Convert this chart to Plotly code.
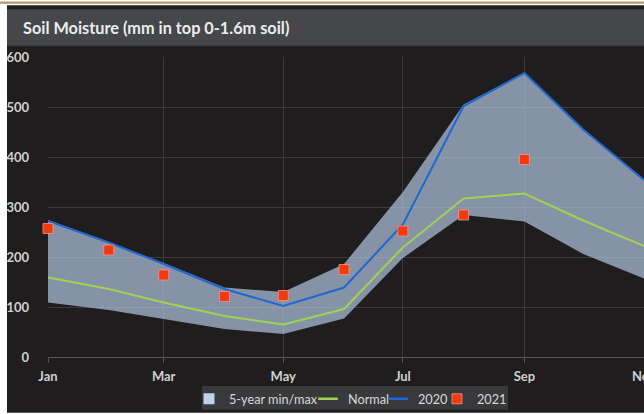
import plotly.graph_objects as go

months = ["2021-01-01", "2021-02-01", "2021-03-01", "2021-04-01", "2021-05-01", "2021-06-01",
          "2021-07-01", "2021-08-01", "2021-09-01", "2021-10-01", "2021-11-01"]
band_max = [274, 230, 188, 139, 130, 186, 330, 505, 568, 455, 355]
band_min = [109, 94, 76, 56, 46, 77, 198, 284, 271, 206, 157]
normal = [159, 136, 109, 82, 65, 96, 219, 317, 327, 273, 222]
y2020 = [272, 229, 186, 136, 102, 139, 265, 502, 568, 455, 354]
y2021 = [257, 214, 164, 121, 123, 175, 252, 284, 395]
tick_vals = ["2021-01-01", "2021-03-01", "2021-05-01", "2021-07-01", "2021-09-01", "2021-11-01"]
tick_text = ["Jan", "Mar", "May", "Jul", "Sep", "Nov"]
y_ticks = [0, 100, 200, 300, 400, 500, 600]

W, H = 644, 414
L, R, T, B = 48, 0, 57, 56
PW, PH = W - L - R, H - T - B

def px(x):
    return (x - L) / PW

def py(y):
    return (H - B - y) / PH

BG = "#1f1d1e"
BAND = "rgba(178,198,224,0.70)"
GREEN = "#9ed354"
BLUE = "#1f68d2"
RED = "#f03a12"
LEG_FONT = dict(size=12.7, color="#d8d8d8", family="Lato")

fig = go.Figure()
fig.add_trace(go.Scatter(x=months, y=band_min, mode="lines", line=dict(width=0, color=BAND),
                         showlegend=False, hoverinfo="skip"))
fig.add_trace(go.Scatter(x=months, y=band_max, mode="lines", line=dict(width=0, color=BAND),
                         fill="tonexty", fillcolor=BAND, showlegend=False, hoverinfo="skip"))
fig.add_trace(go.Scatter(x=months, y=normal, mode="lines", name="Normal", showlegend=False,
                         line=dict(color=GREEN, width=2)))
fig.add_trace(go.Scatter(x=months, y=y2020, mode="lines", name="2020", showlegend=False,
                         line=dict(color=BLUE, width=2)))
fig.add_trace(go.Scatter(x=months[:len(y2021)], y=y2021, mode="markers", name="2021",
                         cliponaxis=False, legend="legend4",
                         marker=dict(symbol="square", size=10, color=RED,
                                     line=dict(color="rgba(255,150,130,0.75)", width=1))))
# legend-only entries
fig.add_trace(go.Scatter(x=[None], y=[None], mode="markers", name="5-year min/max", legend="legend",
                         marker=dict(symbol="square", size=11, color="#bcd1ec")))
fig.add_trace(go.Scatter(x=[None], y=[None], mode="markers", name="Normal", legend="legend2",
                         marker=dict(symbol="line-ew", size=14, line=dict(color=GREEN, width=2.5))))
fig.add_trace(go.Scatter(x=[None], y=[None], mode="markers", name="2020", legend="legend3",
                         marker=dict(symbol="line-ew", size=14, line=dict(color=BLUE, width=2.5))))

shapes = [
    dict(type="rect", xref="paper", yref="paper", x0=px(7), x1=px(W), y0=py(H), y1=py(5),
         fillcolor=BG, line=dict(width=0), layer="below"),
    dict(type="rect", xref="paper", yref="paper", x0=px(7), x1=px(W), y0=py(46), y1=py(9),
         fillcolor="#46474b", line=dict(width=0), layer="below"),
    dict(type="rect", xref="paper", yref="paper", x0=px(7), x1=px(W), y0=py(47), y1=py(45.5),
         fillcolor="#2b2b2d", line=dict(width=0), layer="below"),
    dict(type="rect", xref="paper", yref="paper", x0=px(0), x1=px(W), y0=py(3.6), y1=py(1.2),
         fillcolor="#b59b66", line=dict(width=0), layer="below"),
    dict(type="rect", xref="paper", yref="paper", x0=px(202), x1=px(508), y0=py(411), y1=py(387),
         fillcolor="#39393b", line=dict(width=0), layer="below"),
]

def leg(text_x):
    return dict(orientation="h", x=px(text_x - 37), xanchor="left", y=py(400), yanchor="middle",
                bgcolor="rgba(0,0,0,0)", font=LEG_FONT, itemwidth=30)

fig.update_layout(
    width=W, height=H,
    margin=dict(l=L, r=R, t=T, b=B, pad=0),
    paper_bgcolor="white",
    plot_bgcolor=BG,
    shapes=shapes,
    font=dict(family="Lato", color="#d6d6d6"),
    showlegend=True,
    legend=leg(226), legend2=leg(345), legend3=leg(415), legend4=leg(474),
    annotations=[dict(text="Soil Moisture (mm in top 0-1.6m soil)", xref="paper", yref="paper",
                      x=px(21), y=py(27), xanchor="left", yanchor="middle", showarrow=False,
                      font=dict(family="Lato", size=16.3, weight="bold", color="#ececec"))],
)
fig.update_xaxes(type="date", range=["2021-01-01", "2021-11-01"], tickvals=tick_vals,
                 ticktext=tick_text, showgrid=True, gridcolor="#3a3a3a", gridwidth=1,
                 showline=True, linecolor="#555555", linewidth=1,
                 ticks="outside", ticklen=5, tickcolor="#555555", ticklabelstandoff=2,
                 ticklabeloverflow="allow", automargin=False, zeroline=False,
                 tickfont=dict(family="Lato", size=13, weight="bold", color="#d0d0d0"))
fig.update_yaxes(range=[0, 600], tickvals=y_ticks, showgrid=True, gridcolor="#3a3a3a",
                 gridwidth=1, zeroline=False, showline=False, ticks="", automargin=False,
                 ticklabelstandoff=18,
                 tickfont=dict(family="Lato", size=13, weight="bold", color="#d0d0d0"))

fig.write_html("out.html", config={"displayModeBar": False},
               post_script="document.body.style.margin='0';document.body.style.overflow='hidden';")
